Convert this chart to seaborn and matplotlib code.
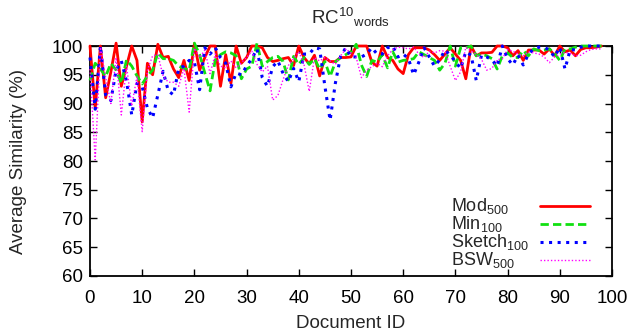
import numpy as np
import pandas as pd
import matplotlib
matplotlib.use("Agg")
import matplotlib.pyplot as plt
import seaborn as sns

# Average similarity per document for each scheme (document IDs 0..98)
doc_ids = list(range(99))

mod_500 = [
    100, 89.2, 100, 91, 95.5, 100.5, 93, 96.5, 100, 97.5,
    86.8, 97, 95, 100.3, 98, 98.2, 96, 94.5, 97.5, 94,
    100.4, 95.8, 98, 100, 100, 93, 98.5, 93.5, 100, 97,
    98, 100, 100, 99.7, 98, 97.3, 97.5, 97.8, 98, 96.6,
    100, 98, 96.9, 98.4, 94.8, 98, 97.3, 97.3, 98, 98,
    98.1, 100, 100, 100, 97.2, 96.5, 100, 98, 97.5, 96,
    95.2, 98.5, 99.7, 99.7, 99.7, 99.3, 98.5, 97.5, 98.6, 99.7,
    98.6, 97.5, 94.3, 100, 98.3, 98.8, 98.8, 98.9, 100, 100,
    99.7, 98.3, 99.2, 97.5, 99.3, 99.3, 99.3, 98.6, 99.5, 98.3,
    100, 99, 99.3, 98.3, 99.4, 99.7, 99.7, 99.8, 100,
]

min_100 = [
    94, 97, 96, 94.7, 97, 95.8, 93.5, 97.6, 96.5, 94.8,
    93.4, 94.8, 95.8, 98.8, 97.8, 97.8, 97.5, 96.5, 96.1, 95.8,
    100.5, 98.5, 95.3, 92.2, 97.6, 98.5, 99, 98.8, 98.3, 94.3,
    96, 96.5, 100.5, 96.5, 97.3, 98, 98.2, 97.3, 94.1, 98.2,
    96.8, 98, 96.8, 97.8, 96, 97.3, 94.7, 97.2, 98, 98.5,
    99, 100.3, 96.7, 94.7, 97.5, 97.2, 98.5, 96.2, 99, 97.2,
    97.5, 97.6, 97.8, 99, 98.5, 98, 97.5, 95.8, 97, 100,
    96.5, 99.7, 99.7, 100, 98.3, 98.6, 98.3, 97.8, 96, 98.3,
    98.8, 98, 98, 99.2, 98.3, 99.5, 99.2, 99.3, 99.5, 98.7,
    97.5, 99.5, 99.5, 99.8, 100, 100, 100, 100, 100,
]

sketch_100 = [
    98, 89, 100, 91.5, 90.5, 95.8, 97.4, 93.9, 88, 93.5,
    92.9, 89.2, 87.5, 91.5, 95.6, 92.2, 91.5, 96.1, 96.5, 97.5,
    97.2, 92.4, 99.7, 98.6, 99.7, 98, 97, 92.9, 95.3, 95,
    96.5, 97.8, 99.5, 94.5, 93, 96.4, 97.4, 95.2, 93.8, 96.1,
    93.8, 98.6, 98.6, 99.7, 99.5, 93, 87.1, 93.5, 98.2, 99.7,
    98.1, 98.1, 98.1, 98.6, 99.7, 98.6, 98.6, 99.7, 100, 98.1,
    98.6, 97.8, 95, 97.2, 99.7, 98.1, 96.5, 97.6, 99.3, 98.4,
    97.3, 96.1, 99, 98.4, 94, 98.4, 98.1, 97.6, 96.5, 100,
    97.8, 96.7, 98.4, 96.7, 98.6, 99.5, 99.8, 99.8, 99.3, 98.1,
    99.8, 96, 99.4, 99.3, 99.8, 100, 100, 100, 100,
]

bsw_500 = [
    96, 80.2, 99.8, 94.5, 90, 98, 88, 96.5, 89.6, 94.7,
    85.1, 95.8, 98.3, 98.5, 94.8, 93.7, 93.7, 93, 96.1, 88.5,
    99.6, 98, 99.3, 95.2, 98.6, 96.5, 96.2, 97.4, 96.2, 97.1,
    98, 99.1, 96.8, 95.5, 96.5, 90.6, 91.4, 94.2, 96.6, 97.8,
    99, 96.8, 92.1, 98, 97.4, 98, 97.4, 96.8, 98.3, 99.5,
    98.8, 98, 94.5, 95.8, 96.4, 97, 96.4, 98.3, 99.4, 99.8,
    99.7, 99.5, 99.8, 98.6, 98, 99.1, 98.8, 99.2, 99.1, 96.5,
    94, 95.5, 99.8, 99.1, 98.5, 97.7, 95.8, 96.1, 97.6, 97.8,
    99.4, 99.1, 98.6, 98.3, 99, 98.8, 98.6, 98.1, 97.1, 98.1,
    98.6, 98.9, 98.7, 98.3, 98.4, 99, 99.4, 99.5, 99.5,
]

series_labels = ["Mod$_{500}$", "Min$_{100}$", "Sketch$_{100}$", "BSW$_{500}$"]
x_ticks = list(range(0, 101, 10))
y_ticks = list(range(60, 101, 5))

df = pd.DataFrame({
    "doc": doc_ids * 4,
    "sim": mod_500 + min_100 + sketch_100 + bsw_500,
    "scheme": sum([[lab] * len(doc_ids) for lab in series_labels], []),
})

sns.set_theme(style="ticks")
plt.rcParams["font.family"] = ["Liberation Sans", "DejaVu Sans"]
plt.rcParams["mathtext.default"] = "regular"
fs = 13.5

fig = plt.figure(figsize=(6.28, 3.32), dpi=100)
ax = fig.add_axes([0.1433, 0.1687, 0.8312, 0.6927])

styles = {
    "Mod$_{500}$": dict(color="#ff0000", lw=2.0, dashes=None),
    "Min$_{100}$": dict(color="#11e011", lw=2.0, dashes=(3.0, 1.5)),
    "Sketch$_{100}$": dict(color="#0000ff", lw=2.2, dashes=(1.0, 1.8)),
    "BSW$_{500}$": dict(color="#ff00ff", lw=1.0, dashes=(1.0, 1.5)),
}

for lab in series_labels:
    st = styles[lab]
    sub = df[df["scheme"] == lab]
    sns.lineplot(data=sub, x="doc", y="sim", ax=ax, color=st["color"],
                 linewidth=st["lw"], estimator=None, sort=False, legend=False)
    line = ax.lines[-1]
    line.set_clip_on(False)
    if st["dashes"] is not None:
        line.set_dashes(st["dashes"])

ax.set_xlim(0, 100)
ax.set_ylim(60, 100)
ax.set_xticks(x_ticks)
ax.set_yticks(y_ticks)
ax.tick_params(direction="in", length=5, width=1, top=True, right=True,
               labelsize=fs, colors="black")
ax.tick_params(axis="x", pad=10)
ax.tick_params(axis="y", pad=5)
for sp in ax.spines.values():
    sp.set_linewidth(1.3)
    sp.set_color("black")
    sp.set_zorder(1)

ax.set_xlabel("Document ID", fontsize=fs, labelpad=6)
ax.set_ylabel("Average Similarity (%)", fontsize=fs, labelpad=18)
ax.set_title("RC$^{10}$$_{words}$", fontsize=fs, pad=16)

# Key in the lower right: left-aligned labels followed by a line sample
key_text_x = 0.692
key_line_x = (0.862, 0.958)
key_rows = [0.304, 0.226, 0.148, 0.070]
for lab, ky in zip(series_labels, key_rows):
    st = styles[lab]
    ax.text(key_text_x, ky - 0.022, lab, transform=ax.transAxes,
            ha="left", va="baseline", fontsize=13)
    key_line, = ax.plot(key_line_x, [ky, ky], transform=ax.transAxes,
                        color=st["color"], lw=st["lw"])
    if st["dashes"] is not None:
        key_line.set_dashes(st["dashes"])

fig.savefig("out.png", dpi=100)
